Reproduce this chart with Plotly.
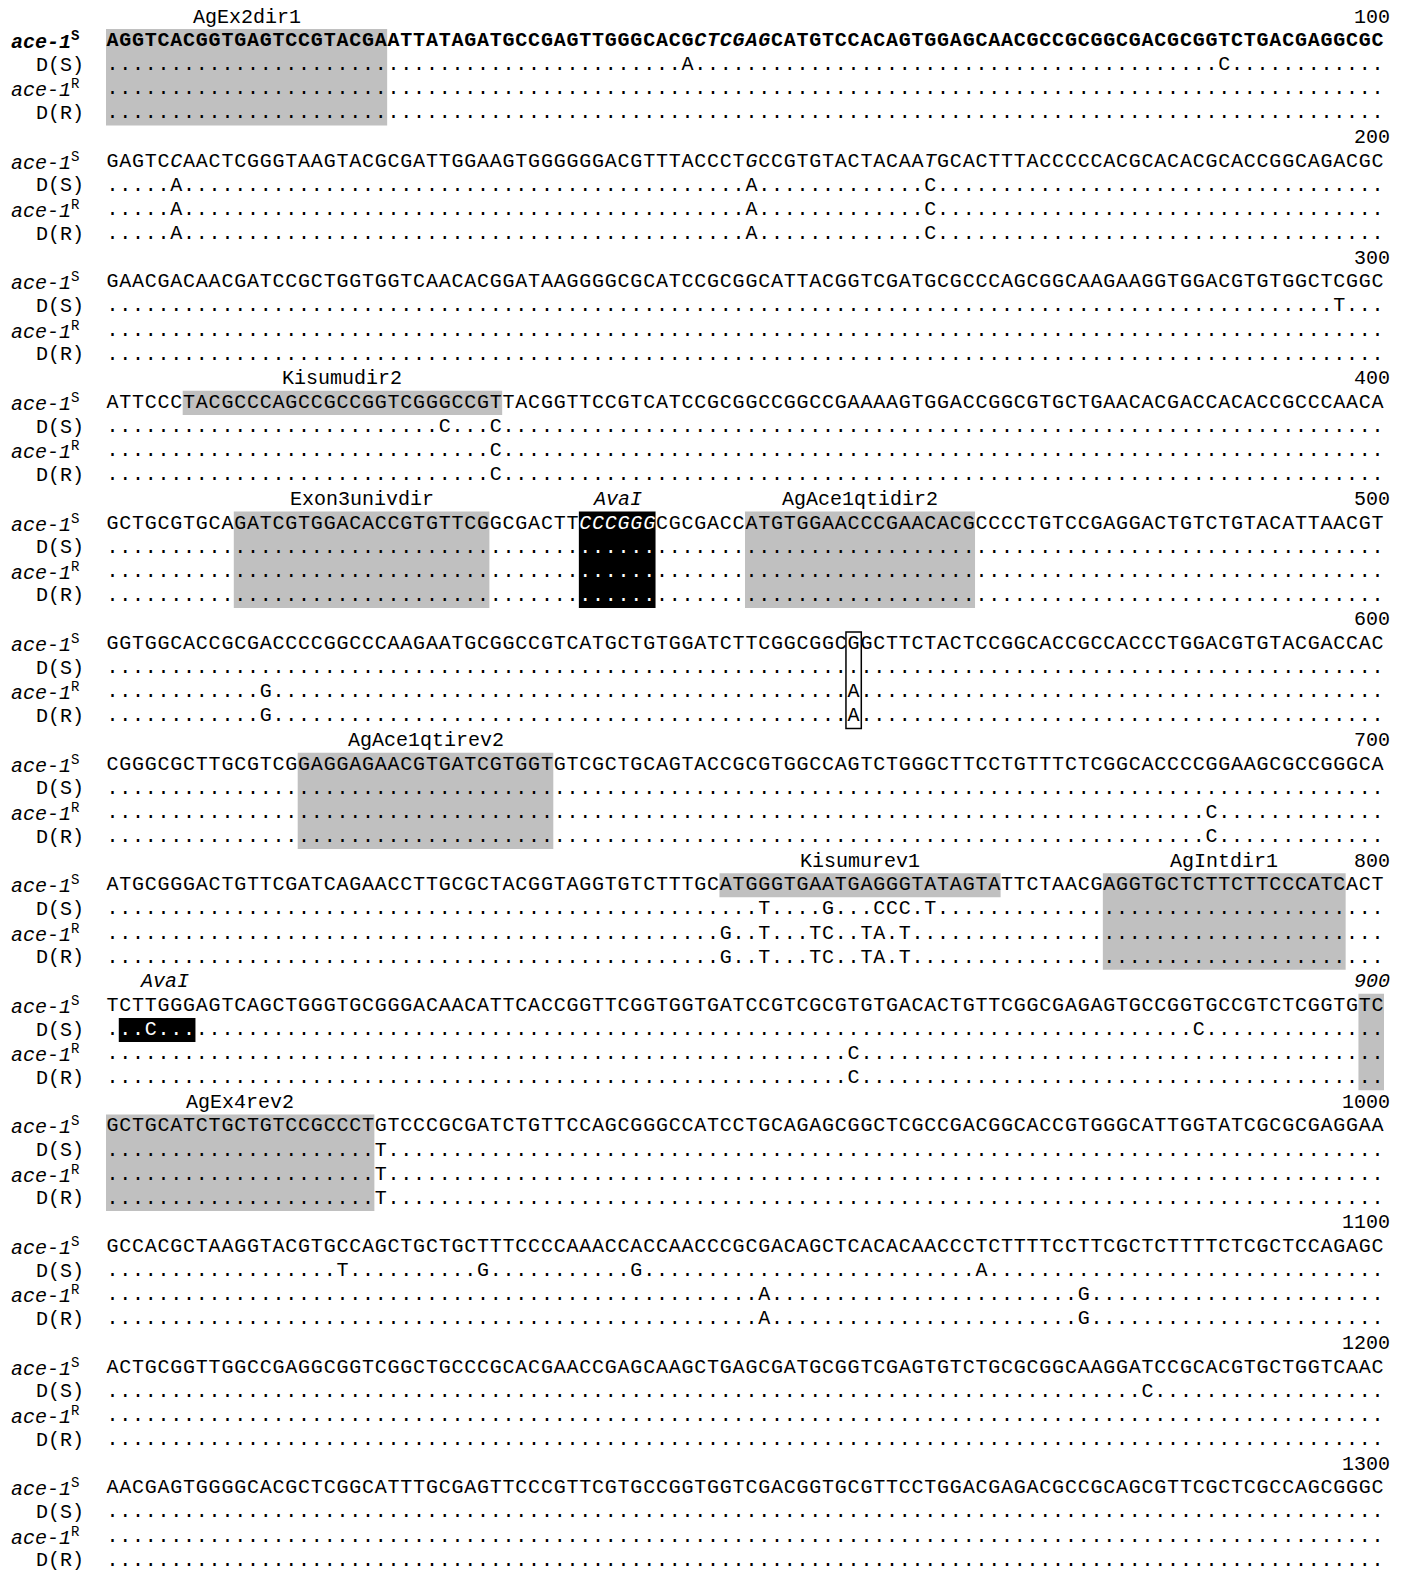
import plotly.graph_objects as go

# ---------------- data ----------------
block_ends = [100, 200, 300, 400, 500, 600, 700, 800, 900, 1000, 1100, 1200, 1300]

ref_seq = [
    "AGGTCACGGTGAGTCCGTACGAATTATAGATGCCGAGTTGGGCACGCTCGAGCATGTCCACAGTGGAGCAACGCCGCGGCGACGCGGTCTGACGAGGCGC",
    "GAGTCCAACTCGGGTAAGTACGCGATTGGAAGTGGGGGGACGTTTACCCTGCCGTGTACTACAATGCACTTTACCCCCACGCACACGCACCGGCAGACGC",
    "GAACGACAACGATCCGCTGGTGGTCAACACGGATAAGGGGCGCATCCGCGGCATTACGGTCGATGCGCCCAGCGGCAAGAAGGTGGACGTGTGGCTCGGC",
    "ATTCCCTACGCCCAGCCGCCGGTCGGGCCGTTACGGTTCCGTCATCCGCGGCCGGCCGAAAAGTGGACCGGCGTGCTGAACACGACCACACCGCCCAACA",
    "GCTGCGTGCAGATCGTGGACACCGTGTTCGGCGACTTCCCGGGCGCGACCATGTGGAACCCGAACACGCCCCTGTCCGAGGACTGTCTGTACATTAACGT",
    "GGTGGCACCGCGACCCCGGCCCAAGAATGCGGCCGTCATGCTGTGGATCTTCGGCGGCGGCTTCTACTCCGGCACCGCCACCCTGGACGTGTACGACCAC",
    "CGGGCGCTTGCGTCGGAGGAGAACGTGATCGTGGTGTCGCTGCAGTACCGCGTGGCCAGTCTGGGCTTCCTGTTTCTCGGCACCCCGGAAGCGCCGGGCA",
    "ATGCGGGACTGTTCGATCAGAACCTTGCGCTACGGTAGGTGTCTTTGCATGGGTGAATGAGGGTATAGTATTCTAACGAGGTGCTCTTCTTCCCATCACT",
    "TCTTGGGAGTCAGCTGGGTGCGGGACAACATTCACCGGTTCGGTGGTGATCCGTCGCGTGTGACACTGTTCGGCGAGAGTGCCGGTGCCGTCTCGGTGTC",
    "GCTGCATCTGCTGTCCGCCCTGTCCCGCGATCTGTTCCAGCGGGCCATCCTGCAGAGCGGCTCGCCGACGGCACCGTGGGCATTGGTATCGCGCGAGGAA",
    "GCCACGCTAAGGTACGTGCCAGCTGCTGCTTTCCCCAAACCACCAACCCGCGACAGCTCACACAACCCTCTTTTCCTTCGCTCTTTTCTCGCTCCAGAGC",
    "ACTGCGGTTGGCCGAGGCGGTCGGCTGCCCGCACGAACCGAGCAAGCTGAGCGATGCGGTCGAGTGTCTGCGCGGCAAGGATCCGCACGTGCTGGTCAAC",
    "AACGAGTGGGGCACGCTCGGCATTTGCGAGTTCCCGTTCGTGCCGGTGGTCGACGGTGCGTTCCTGGACGAGACGCCGCAGCGTTCGCTCGCCAGCGGGC",
]

row_names = ["ace-1", "D(S)", "ace-1", "D(R)"]
row_sup = ["S", "", "R", ""]

# variants: (block, index in block, base)
ds_variants = [(0, 45, "A"), (0, 87, "C"), (1, 5, "A"), (1, 50, "A"), (1, 64, "C"),
               (2, 96, "T"), (3, 26, "C"), (3, 30, "C"),
               (7, 51, "T"), (7, 56, "G"), (7, 60, "C"), (7, 61, "C"), (7, 62, "C"), (7, 64, "T"),
               (8, 3, "C"), (8, 85, "C"), (9, 21, "T"),
               (10, 18, "T"), (10, 29, "G"), (10, 41, "G"), (10, 68, "A"), (11, 81, "C")]
r_variants = [(1, 5, "A"), (1, 50, "A"), (1, 64, "C"), (3, 30, "C"),
              (5, 12, "G"), (5, 58, "A"), (6, 86, "C"),
              (7, 48, "G"), (7, 51, "T"), (7, 55, "T"), (7, 56, "C"), (7, 59, "T"), (7, 60, "A"), (7, 62, "T"),
              (8, 58, "C"), (9, 21, "T"), (10, 51, "A"), (10, 76, "G")]
dr_variants = list(r_variants)

# primers: (block, start, end, label, span) span: "all" rows or "seq" row only
primers = [(0, 0, 21, "AgEx2dir1", "all"),
           (3, 6, 30, "Kisumudir2", "seq"),
           (4, 10, 29, "Exon3univdir", "all"),
           (4, 50, 67, "AgAce1qtidir2", "all"),
           (6, 15, 34, "AgAce1qtirev2", "all"),
           (7, 48, 69, "Kisumurev1", "seq"),
           (7, 78, 96, "AgIntdir1", "all"),
           (8, 98, 99, "", "all"),
           (9, 0, 20, "AgEx4rev2", "all")]

# AvaI sites: (block, start, end, first row, last row)
ava_sites = [(4, 37, 42, 1, 4), (8, 1, 6, 2, 2)]
italic_sites = [(0, 46, 51), (1, 5, 5), (1, 50, 50), (1, 64, 64), (4, 37, 42)]
bold_blocks = [0]
mutation_site = (5, 58)
italic_numbers = [900]

# ---------------- build ----------------
MONO = "Liberation Mono, Courier New, monospace"
FS = 20
GRAY = "#c0c0c0"
LINES_PER_BLOCK = 5

var_rows = {2: ds_variants, 3: r_variants, 4: dr_variants}
var_map = {}
for r, lst in var_rows.items():
    for b, i, base in lst:
        var_map[(b, r, i)] = base

def is_italic(b, i):
    return any(bb == b and s <= i <= e for bb, s, e in italic_sites)

def is_white(b, r, i):
    return any(bb == b and s <= i <= e and r0 <= r <= r1 for bb, s, e, r0, r1 in ava_sites)

xs, ys, texts, colors = [], [], [], []
for b, seq in enumerate(ref_seq):
    for r in range(1, 5):
        L = b * LINES_PER_BLOCK + r
        for i, ch in enumerate(seq):
            if r == 1:
                t = ch
                if is_italic(b, i):
                    t = "<i>" + t + "</i>"
                if b in bold_blocks:
                    t = "<b>" + t + "</b>"
            else:
                t = var_map.get((b, r, i), ".")
            xs.append(i)
            ys.append(L)
            texts.append(t)
            colors.append("white" if is_white(b, r, i) else "black")

fig = go.Figure()
fig.add_trace(go.Scatter(x=xs, y=ys, mode="text", text=texts, textposition="middle center",
                         textfont=dict(family=MONO, size=FS, color=colors),
                         hoverinfo="skip", showlegend=False, cliponaxis=False))

shapes = []
annotations = []
for b, s, e, lab, span in primers:
    base = b * LINES_PER_BLOCK
    y1 = base + (4.5 if span == "all" else 1.5)
    shapes.append(dict(type="rect", xref="x", yref="y", x0=s - 0.5, x1=e + 0.5,
                       y0=base + 0.5, y1=y1, fillcolor=GRAY, line=dict(width=0), layer="below"))
    if lab:
        annotations.append(dict(x=(s + e) / 2, y=base, text=lab, showarrow=False,
                                font=dict(family=MONO, size=FS, color="black"),
                                xanchor="center", yanchor="middle"))
for b, s, e, r0, r1 in ava_sites:
    base = b * LINES_PER_BLOCK
    shapes.append(dict(type="rect", xref="x", yref="y", x0=s - 0.5, x1=e + 0.5,
                       y0=base + r0 - 0.5, y1=base + r1 + 0.5, fillcolor="black",
                       line=dict(width=0), layer="below"))
    annotations.append(dict(x=(s + e) / 2 + (0.5 if r0 == 2 else 0), y=base, text="<i>AvaI</i>", showarrow=False,
                            font=dict(family=MONO, size=FS, color="black"),
                            xanchor="center", yanchor="middle"))
mb, mi = mutation_site
shapes.append(dict(type="rect", xref="x", yref="y", x0=mi - 0.6, x1=mi + 0.6,
                   y0=mb * LINES_PER_BLOCK + 0.5, y1=mb * LINES_PER_BLOCK + 4.5,
                   fillcolor="rgba(0,0,0,0)", line=dict(color="black", width=1.5), layer="above"))

for b, num in enumerate(block_ends):
    base = b * LINES_PER_BLOCK
    txt = f"<i>{num}</i>" if num in italic_numbers else str(num)
    annotations.append(dict(x=100.1, y=base, text=txt, showarrow=False,
                            font=dict(family=MONO, size=FS, color="black"),
                            xanchor="right", yanchor="middle"))
    for r in range(1, 5):
        name = row_names[r - 1]
        sup = row_sup[r - 1]
        if sup:
            t = f"<i>{name}</i><sup>{sup}</sup>"
            if b in bold_blocks and r == 1:
                t = f"<b><i>{name}</i><sup>{sup}</sup></b>"
            annotations.append(dict(x=-8.1, y=base + r, text=t, showarrow=False,
                                    font=dict(family=MONO, size=FS, color="black"),
                                    xanchor="left", yanchor="middle"))
        else:
            annotations.append(dict(x=-2.1, y=base + r, text=name, showarrow=False,
                                    font=dict(family=MONO, size=FS, color="black"),
                                    xanchor="right", yanchor="middle"))

# page body has an 8px margin; map the visible plot area accordingly
fig.update_layout(
    width=1401, height=1563,
    margin=dict(l=0, r=0, t=0, b=0),
    paper_bgcolor="white", plot_bgcolor="white",
    xaxis=dict(range=[-8.168, 101.456], visible=False, fixedrange=True),
    yaxis=dict(range=[64.43, -0.373], visible=False, fixedrange=True),
    shapes=shapes, annotations=annotations, showlegend=False,
)
fig.write_html("out.html")
